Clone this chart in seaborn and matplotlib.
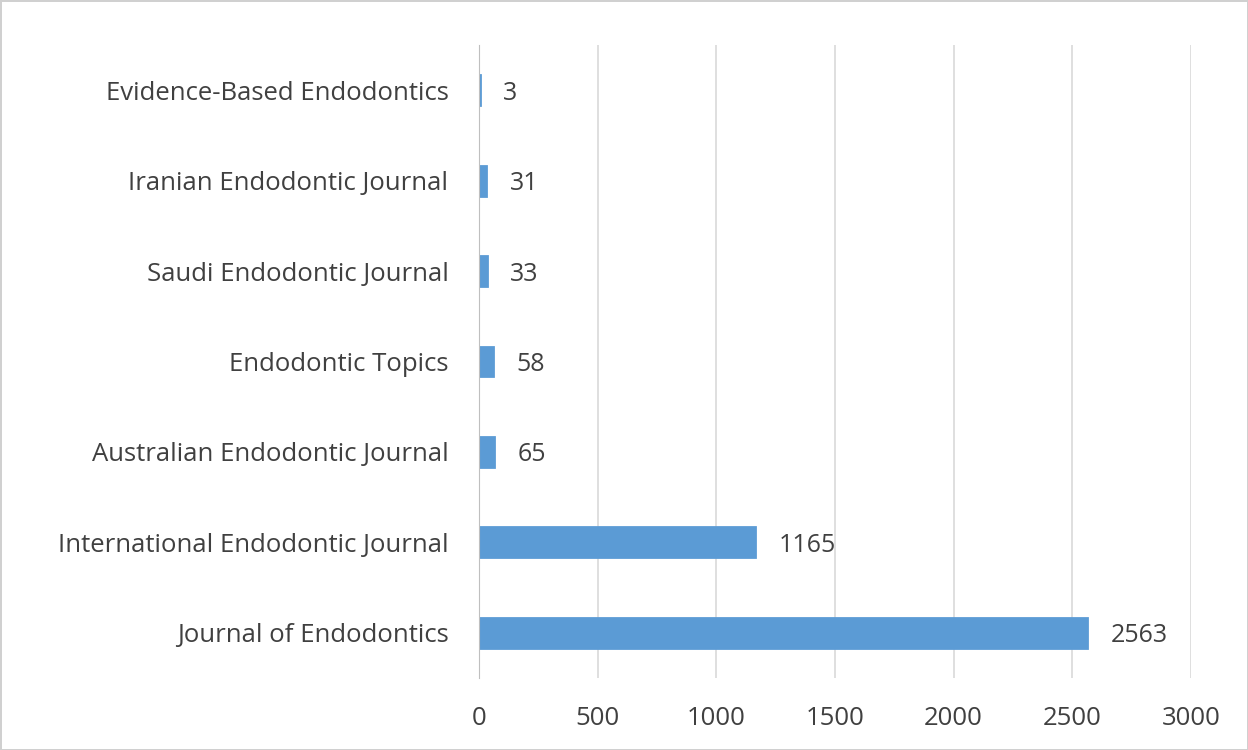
import matplotlib
matplotlib.use("Agg")
import matplotlib.pyplot as plt
import pandas as pd
import seaborn as sns

journals = ["Evidence-Based Endodontics", "Iranian Endodontic Journal", "Saudi Endodontic Journal",
            "Endodontic Topics", "Australian Endodontic Journal", "International Endodontic Journal",
            "Journal of Endodontics"]
counts = [3, 31, 33, 58, 65, 1165, 2563]
x_ticks = [0, 500, 1000, 1500, 2000, 2500, 3000]

df = pd.DataFrame({"journal": journals, "count": counts})

sns.set_style("white")
plt.rcParams['font.family'] = ['Open Sans', 'DejaVu Sans']

fig = plt.figure(figsize=(12.48, 7.5), dpi=100)
fig.patch.set_edgecolor("#d0d0d0")
fig.patch.set_linewidth(2)
ax = fig.add_axes([0.3838, 0.096, 0.5705, 0.844])

sns.barplot(data=df, y="journal", x="count", orient="h", color="#5B9BD5",
            saturation=1, width=0.33, edgecolor="#5B9BD5", linewidth=2, ax=ax)

for i, v in enumerate(counts):
    ax.annotate(str(v), (v, i), xytext=(17, 0), textcoords="offset points",
                va="center_baseline", ha="left", fontsize=18, color="#404040")

ax.set_xlim(0, 3000)
ax.set_xticks(x_ticks)
ax.set_ylim(6.5, -0.5)
ax.xaxis.grid(True, color="#d9d9d9", linewidth=1.2)
ax.set_axisbelow(True)
for s in ["top", "right", "bottom"]:
    ax.spines[s].set_visible(False)
ax.spines["left"].set_color("#bfbfbf")
ax.set_xlabel("")
ax.set_ylabel("")
ax.tick_params(axis="both", length=0, labelsize=18.5, labelcolor="#404040")
ax.tick_params(axis="y", pad=22)
ax.tick_params(axis="x", pad=20)

fig.savefig("out.png", dpi=100, edgecolor=fig.get_edgecolor())
